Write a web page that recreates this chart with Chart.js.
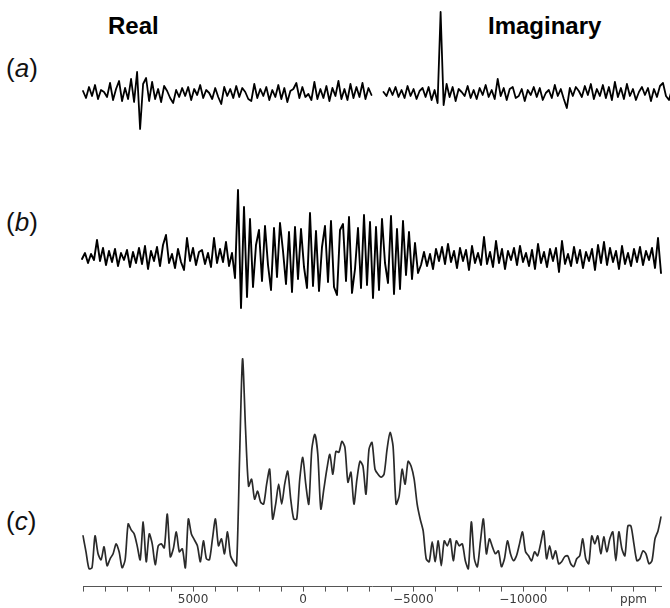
<!DOCTYPE html>
<html>
<head>
<meta charset="utf-8">
<script src="https://cdn.jsdelivr.net/npm/chart.js@4.4.1/dist/chart.umd.min.js"></script>
<style>
  html, body { margin:0; padding:0; background:#fff; overflow:hidden; }
  body { width:670px; height:608px; position:relative; font-family:"Liberation Sans", Arial, sans-serif; }
  .panel { position:absolute; left:0; }
  .tag { position:absolute; left:6px; font-size:26px; line-height:1; color:#111; }
  .tag i { font-style:italic; }
  .head { position:absolute; top:14px; font-size:24px; font-weight:bold; line-height:1; color:#000; }
</style>
</head>
<body>

<div class="head" style="left:108px">Real</div>
<div class="head" style="left:488px">Imaginary</div>
<div class="tag" style="top:55px">(<i>a</i>)</div>
<div class="tag" style="top:209px">(<i>b</i>)</div>
<div class="tag" style="top:508px">(<i>c</i>)</div>

<div class="panel" style="top:0;width:672px;height:140px"><canvas id="chartA"></canvas></div>
<div class="panel" style="top:180px;width:670px;height:135px"><canvas id="chartB"></canvas></div>
<div class="panel" style="top:340px;width:670px;height:268px"><canvas id="chartC"></canvas></div>

<script>
// ---------- datos (unidades arbitrarias) ----------

// (a) ruido, parte real e imaginaria
const realNoise = [
  2,-5,6,-3,8,-6,3,1,-4,10,
  -7,4,12,-8,5,-6,14,-9,
  21,-36,9,
  15,-8,11,-6,4,-9,7,2,-5,-10,
  3,-4,5,-3,6,-7,4,-2,8,-5,
  3,0,-6,5,-4,-11,6,-3,4,-5,
  7,-4,5,1,-6,-8,9,-5,4,-3,
  6,-7,3,-4,8,-6,5,-9,2,4,
  10,-5,6,-4,-1,-7,11,-6,4,-5,
  7,-8,5,-3,12,-6,4,-7,9,-5,
  6,-4,10,-6,5,-2
];
const imagNoise = [
  1,-3,5,-2,6,-4,3,-5,7,-3,
  4,-6,2,5,-4,6,-7,3,
  -10,81,-12,9,
  -4,6,-8,4,1,-3,7,-5,3,
  -6,5,-2,8,-4,3,-6,14,-3,5,
  -7,4,6,-5,-3,4,-8,3,-2,6,
  -4,5,-7,0,3,-5,8,-3,4,-6,
  -15,5,-3,6,2,-4,7,-2,9,-6,
  4,-3,8,-5,6,-7,11,-4,5,-6,
  9,-3,4,-7,1,6,-2,5,-8,4,
  -4,7,10,-3,-7,4
];

// (b) señal con ruido
const signalB = [
  -2,4,-6,3,-3,17,-4,9,-8,6,
  -5,8,-9,4,-3,7,-10,5,-6,9,
  -7,11,-12,6,-4,10,-9,12,22,-6,
  3,-11,8,-5,-13,19,-4,9,-8,5,
  7,-7,4,-10,19,-6,8,-5,15,-9,4,
  -21,67,-51,50,-40,
  38,-30,12,27,-24,31,-8,-33,29,-20,
  34,6,-27,25,-35,30,-22,28,-10,-31,
  44,-29,26,-34,10,31,-25,36,-30,-38,
  27,33,-24,40,-36,-12,29,-31,42,-28,
  35,-41,30,-33,38,-6,-26,41,-37,28,
  -32,36,-18,25,-22,14,-16,-8,
  5,-9,3,-12,8,-4,10,-7,13,-5,
  6,-11,9,-4,7,-13,11,-6,4,-8,
  20,-7,5,-10,16,-6,8,-12,6,-3,
  9,-8,11,-5,4,-9,7,-12,13,-6,
  5,-10,8,-4,9,-15,16,-7,3,-9,
  10,-6,7,-11,5,-4,8,-13,12,-6,
  15,-8,9,-5,6,-12,11,-7,4,-9,
  8,-5,10,-8,6,-3,9,-11,19,-16
];

// (c) espectro
const spectrumC = [
  38,22,5,6,38,20,14,27,8,15,
  20,30,22,6,14,50,44,40,28,14,
  52,12,40,30,9,28,30,26,60,17,
  25,42,22,25,6,55,40,34,28,12,
  33,15,14,35,55,28,35,20,42,18,
  12,8,
  115,216,145,88,95,75,83,72,70,90,
  105,55,70,90,70,90,103,75,55,55,
  95,117,90,70,125,140,120,65,85,105,
  120,100,123,122,133,127,92,102,70,95,
  113,108,80,125,132,105,100,97,100,125,
  142,128,70,78,105,90,113,108,95,70,55,43,
  15,12,32,12,33,8,33,28,35,13,
  33,28,30,13,5,52,15,7,32,55,
  20,35,27,20,23,7,15,33,20,13,
  18,30,42,22,18,13,22,18,30,43,
  15,28,15,23,10,12,17,18,10,7,
  15,18,35,15,10,38,30,38,20,37,
  22,35,42,13,42,25,18,48,48,30,
  13,15,23,20,10,13,35,43,57
];

// eje ppm
const ppmRange = [10000, -16250];
const ppmTicks = [10000,9000,8000,7000,6000,5000,4000,3000,2000,1000,0,
  -1000,-2000,-3000,-4000,-5000,-6000,-7000,-8000,-9000,-10000,
  -11000,-12000,-13000,-14000,-15000,-16000];
const ppmLabeled = [5000, 0, -5000, -10000];
const ppmUnit = { at: -15000, text: "ppm" };

// ---------- helpers ----------
const gapA = 3;   // huecos entre real e imaginaria

function fmtPpm(v){
  if (v === ppmUnit.at) return ppmUnit.text;
  if (!ppmLabeled.includes(v)) return "";
  return v < 0 ? "\u2212" + Math.abs(v) : String(v);
}

function idx(n){ return Array.from({length:n}, (_,i) => i); }

function baseOpts(pad, yMin, yMax){
  return {
    responsive:true, maintainAspectRatio:false, animation:false, events:[],
    layout:{ padding: pad },
    plugins:{ legend:{display:false}, tooltip:{enabled:false} },
    elements:{ point:{radius:0}, line:{borderJoinStyle:'round', borderCapStyle:'round'} },
    scales:{
      x:{ type:'category', display:false, offset:false },
      y:{ display:false, min:yMin, max:yMax }
    }
  };
}

// ---------- (a) ----------
function renderA(){
  const total = realNoise.length + gapA + imagNoise.length;
  const imagData = Array(realNoise.length + gapA).fill(null).concat(imagNoise);
  new Chart(document.getElementById("chartA"), {
    type:'line',
    data:{
      labels: idx(total),
      datasets:[
        { data: realNoise, borderColor:'#000', borderWidth:1.8, spanGaps:false },
        { data: imagData,  borderColor:'#000', borderWidth:1.8, spanGaps:false }
      ]
    },
    options: baseOpts({left:83, right:0, top:0, bottom:0}, -47, 93)
  });
}

// ---------- (b) ----------
function renderB(){
  new Chart(document.getElementById("chartB"), {
    type:'line',
    data:{
      labels: idx(signalB.length),
      datasets:[{ data: signalB, borderColor:'#000', borderWidth:1.9 }]
    },
    options: baseOpts({left:82, right:9, top:0, bottom:0}, -58, 77)
  });
}

// ---------- (c) ----------
function renderC(){
  const opts = baseOpts({left:83, right:9, top:0, bottom:0}, -13, 235);
  opts.scales.ppm = {
    type:'linear', position:'bottom', reverse:true,
    min: ppmRange[1], max: ppmRange[0],
    afterBuildTicks: (s) => { s.ticks = ppmTicks.map(v => ({ value:v })); },
    grid:{ drawOnChartArea:false, drawTicks:true, tickLength:5, color:'#555', lineWidth:1 },
    border:{ display:true, color:'#555', width:1 },
    ticks:{
      autoSkip:false, maxRotation:0, padding:1, color:'#3a3a3a',
      font:{ family:'"DejaVu Sans", Verdana, sans-serif', size:12 },
      callback: (v) => fmtPpm(v)
    }
  };
  new Chart(document.getElementById("chartC"), {
    type:'line',
    data:{
      labels: idx(spectrumC.length),
      datasets:[{ data: spectrumC, borderColor:'#2a2a2a', borderWidth:1.7, tension:0.25 }]
    },
    options: opts
  });
}

renderA();
renderB();
renderC();
</script>
</body>
</html>
